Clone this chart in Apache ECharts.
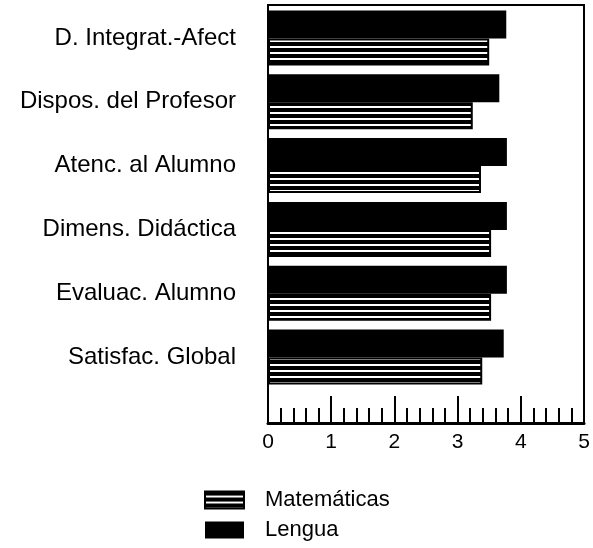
<!DOCTYPE html>
<html><head><meta charset="utf-8">
<script src="https://cdn.jsdelivr.net/npm/echarts@6/dist/echarts.min.js"></script>
<style>html,body{margin:0;padding:0;background:#fff}#c{width:593px;height:548px}</style>
</head><body><div id="c"></div>
<script>
const categories = ['D. Integrat.-Afect','Dispos. del Profesor','Atenc. al Alumno','Dimens. Didáctica','Evaluac. Alumno','Satisfac. Global'];
const lengua = [3.77, 3.66, 3.78, 3.78, 3.78, 3.73];
const matematicas = [3.50, 3.24, 3.37, 3.53, 3.53, 3.39];
const xTicks = [0, 1, 2, 3, 4, 5];

const cv = document.createElement('canvas');
cv.width = 8; cv.height = 6;
const cx = cv.getContext('2d');
cx.fillStyle = '#000'; cx.fillRect(0,0,8,6);
cx.fillStyle = '#fff'; cx.fillRect(0,4,8,2);
const stripe = {image: cv, repeat: 'repeat'};

const font = 'Liberation Sans, Arial, Helvetica, sans-serif';
const chart = echarts.init(document.getElementById('c'), null, {renderer:'canvas'});
chart.setOption({
  animation: false,
  backgroundColor: '#fff',
  grid: [
    {left: 268, right: 9, top: 6, height: 383},
    {left: 268, right: 9, top: 5, bottom: 125, show: true, borderColor: '#000', borderWidth: 2, backgroundColor: 'transparent'}
  ],
  xAxis: [
    {gridIndex: 0, type: 'value', min: 0, max: 5, interval: 1, show: false},
    {gridIndex: 1, type: 'value', min: 0, max: 5, interval: 1,
      axisLine: {show: true, lineStyle: {color: '#000', width: 3}},
      axisTick: {show: true, inside: true, length: 27, lineStyle: {color: '#000', width: 2}},
      minorTick: {show: true, splitNumber: 5, length: 15, lineStyle: {color: '#000', width: 2}},
      splitLine: {show: false},
      axisLabel: {margin: 9, color: '#000', fontSize: 21, fontFamily: font,
        formatter: v => xTicks.includes(v) ? String(v) : ''}}
  ],
  yAxis: [
    {gridIndex: 0, type: 'category', data: categories, inverse: true,
      axisLine: {show: false}, axisTick: {show: false}, splitLine: {show: false},
      axisLabel: {margin: 32, color: '#000', fontSize: 24, fontFamily: font}},
    {gridIndex: 1, type: 'value', show: false}
  ],
  legend: {
    orient: 'vertical', left: 204, top: 489, padding: 0, itemWidth: 39, itemHeight: 17, itemGap: 8,
    icon: 'rect',
    data: ['Matemáticas', 'Lengua'],
    textStyle: {color: '#000', fontSize: 22, fontFamily: font, padding: [0, 0, 0, 16]}
  },
  series: [
    {name: 'Lengua', type: 'bar', xAxisIndex: 0, yAxisIndex: 0, data: lengua,
      barWidth: 28, barGap: '0%', itemStyle: {color: '#000'}},
    {name: 'Matemáticas', type: 'bar', xAxisIndex: 0, yAxisIndex: 0, data: matematicas,
      barWidth: 27, barGap: '0%', itemStyle: {color: stripe, borderColor: '#000', borderWidth: 2}}
  ]
});
</script></body></html>
